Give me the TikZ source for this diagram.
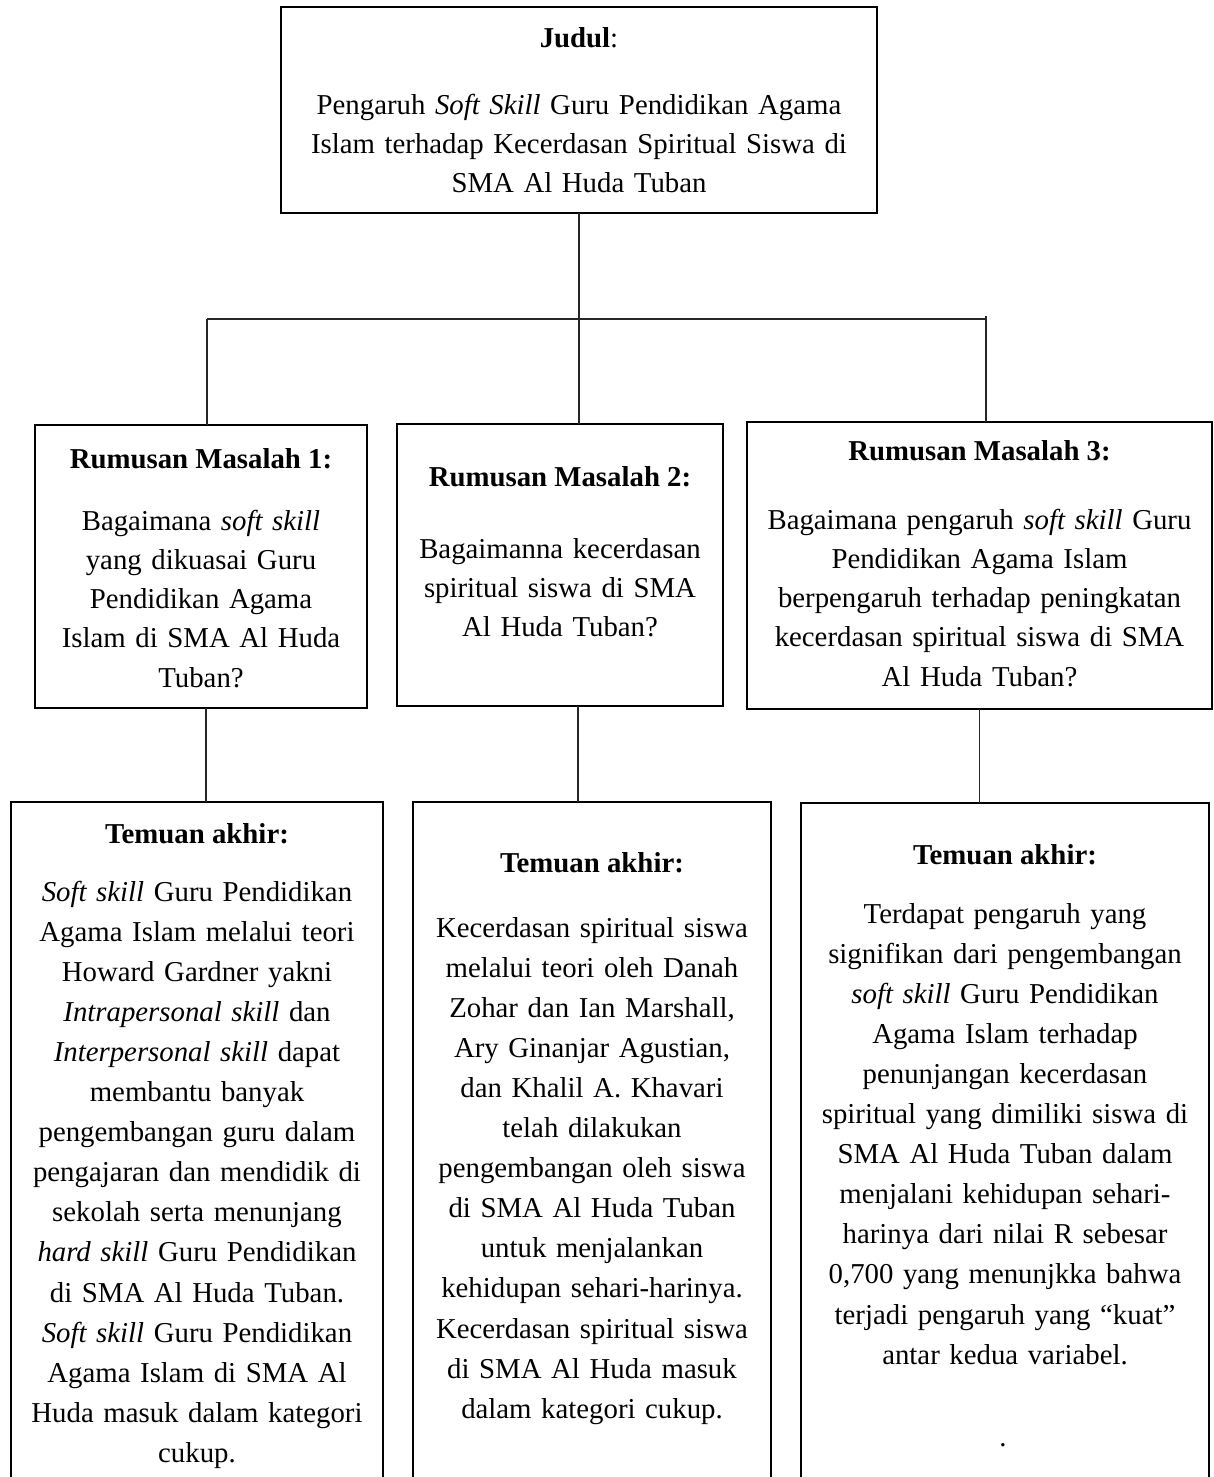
\documentclass[tikz,border=0pt]{standalone}
\usepackage{fontspec}
\setmainfont{Liberation Serif}
\begin{document}
\begin{tikzpicture}[x=1pt,y=-1pt,
  box/.style={draw=black, line width=2pt, inner sep=0pt, outer sep=0pt, rectangle},
  conn/.style={draw=black!85, line width=1.1pt},
  headtxt/.style={inner sep=0pt, anchor=base, font=\fontsize{28.8}{39.3}\selectfont\bfseries},
  bodytxt/.style={inner sep=0pt, anchor=base, align=center, font=\fontsize{28.8}{39.3}\selectfont},
  bodytxtB/.style={inner sep=0pt, anchor=base, align=center, font=\fontsize{28.8}{40.1}\selectfont}
]
\useasboundingbox (0,0) rectangle (1214,1477);
\clip (0,0) rectangle (1214,1477);

% boxes
\node[box, minimum width=596pt, minimum height=206pt] (T) at (579,110) {};
\node[box, minimum width=332pt, minimum height=283pt] (R1) at (201,566.5) {};
\node[box, minimum width=326pt, minimum height=282pt] (R2) at (560,565) {};
\node[box, minimum width=465pt, minimum height=287pt] (R3) at (979.5,565.5) {};
\node[box, minimum width=372pt, minimum height=698pt] (A) at (197,1151) {};
\node[box, minimum width=358pt, minimum height=698pt] (B) at (592,1151) {};
\node[box, minimum width=408pt, minimum height=697pt] (C) at (1005,1151.5) {};

% title
\node[inner sep=0pt, anchor=base, font=\fontsize{28.8}{39.3}\selectfont] (Th) at (579,48) {\textbf{Judul}:};
\node[bodytxt, text width=570pt] (Tb) at (579,114) {Pengaruh \textit{Soft Skill} Guru Pendidikan Agama\\Islam terhadap Kecerdasan Spiritual Siswa di\\SMA Al Huda Tuban};

% rumusan
\node[headtxt] (R1h) at (201,468) {Rumusan Masalah 1:};
\node[bodytxt, text width=320pt] (R1b) at (201,530) {Bagaimana \textit{soft skill}\\yang dikuasai Guru\\Pendidikan Agama\\Islam di SMA Al Huda\\Tuban?};

\node[headtxt] (R2h) at (560,486) {Rumusan Masalah 2:};
\node[bodytxt, text width=316pt] (R2b) at (560,558) {Bagaimanna kecerdasan\\spiritual siswa di SMA\\Al Huda Tuban?};

\node[headtxt] (R3h) at (979.5,460) {Rumusan Masalah 3:};
\node[bodytxt, text width=455pt] (R3b) at (979.5,529) {Bagaimana pengaruh \textit{soft skill} Guru\\Pendidikan Agama Islam\\berpengaruh terhadap peningkatan\\kecerdasan spiritual siswa di SMA\\Al Huda Tuban?};

% temuan
\node[headtxt] (Ah) at (197,843) {Temuan akhir:};
\node[bodytxtB, text width=362pt] (Ab) at (197,901) {\textit{Soft skill} Guru Pendidikan\\Agama Islam melalui teori\\Howard Gardner yakni\\\textit{Intrapersonal skill} dan\\\textit{Interpersonal skill} dapat\\membantu banyak\\pengembangan guru dalam\\pengajaran dan mendidik di\\sekolah serta menunjang\\\textit{hard skill} Guru Pendidikan\\di SMA Al Huda Tuban.\\\textit{Soft skill} Guru Pendidikan\\Agama Islam di SMA Al\\Huda masuk dalam kategori\\cukup.};

\node[headtxt] (Bh) at (592,872) {Temuan akhir:};
\node[bodytxtB, text width=348pt] (Bb) at (592,937) {Kecerdasan spiritual siswa\\melalui teori oleh Danah\\Zohar dan Ian Marshall,\\Ary Ginanjar Agustian,\\dan Khalil A. Khavari\\telah dilakukan\\pengembangan oleh siswa\\di SMA Al Huda Tuban\\untuk menjalankan\\kehidupan sehari-harinya.\\Kecerdasan spiritual siswa\\di SMA Al Huda masuk\\dalam kategori cukup.};

\node[headtxt] (Ch) at (1005,864) {Temuan akhir:};
\node[bodytxtB, text width=398pt] (Cb) at (1005,923) {Terdapat pengaruh yang\\signifikan dari pengembangan\\\textit{soft skill} Guru Pendidikan\\Agama Islam terhadap\\penunjangan kecerdasan\\spiritual yang dimiliki siswa di\\SMA Al Huda Tuban dalam\\menjalani kehidupan sehari-\\harinya dari nilai R sebesar\\0,700 yang menunjkka bahwa\\terjadi pengaruh yang “kuat”\\antar kedua variabel.};
\node[inner sep=0pt, anchor=base, font=\fontsize{28.8}{40}\selectfont] (Cd) at (1003,1446) {.};

% connectors
\coordinate (bl) at (207,319);
\coordinate (br) at (986,319);
\coordinate (brt) at (986,316);
\draw[conn] (T.south) -- (T.south |- R2.north);
\draw[conn] (bl) -- (br);
\draw[conn] (bl) -- (bl |- R1.north);
\draw[conn] (brt) -- (brt |- R3.north);
\draw[conn] ([xshift=5pt]R1.south) -- ([xshift=5pt]R1.south |- A.north);
\draw[conn] ([xshift=18pt]R2.south) -- ([xshift=18pt]R2.south |- B.north);
\draw[conn] (R3.south) -- (R3.south |- C.north);
\end{tikzpicture}
\end{document}
